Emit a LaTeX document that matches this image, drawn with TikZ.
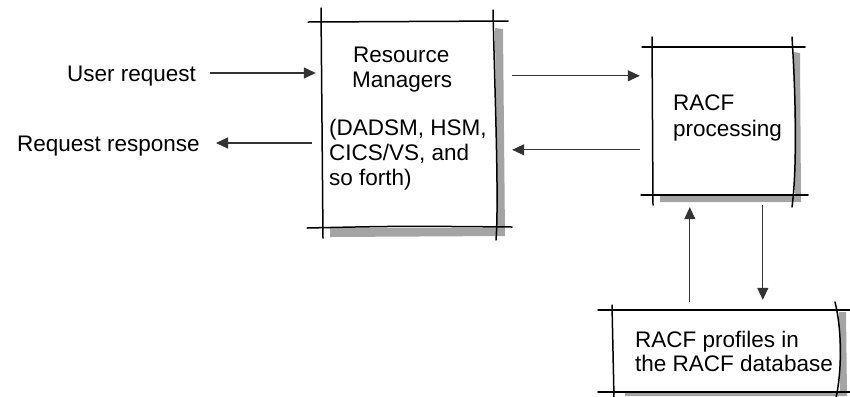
\documentclass[tikz,border=0pt]{standalone}
\usepackage{fontspec}
\setmainfont{Liberation Sans}
\usetikzlibrary{arrows.meta,calc}
\definecolor{shadowgray}{HTML}{A4A4A4}
\definecolor{linegray}{HTML}{333333}
\begin{document}
\begin{tikzpicture}[x=1bp,y=-1bp,
  txt/.style={inner sep=0pt,anchor=base west,font=\fontsize{22.5bp}{25bp}\selectfont},
  boxarea/.style={rectangle,inner sep=0pt,draw=none},
  sketch/.style={line width=1.5bp,black,line cap=round},
  shade/.style={fill=shadowgray,draw=none},
  arr/.style={line width=1.1bp,draw=linegray,-{Triangle[length=12bp,width=11bp]}}]
\useasboundingbox (0,0) rectangle (850,396);

% box areas
\node[boxarea,minimum width=173bp,minimum height=205bp] (box1) at (408.5,124.5) {};
\node[boxarea,minimum width=141bp,minimum height=148bp] (box2) at (722.5,121) {};
\node[boxarea,minimum width=224bp,minimum height=82bp] (box3) at (725,351) {};

% shadows
\fill[shade] (495,28) -- (503,29) -- (505,236) -- (330,237) -- (330,228) -- (497,228) -- cycle;
\fill[shade] (794,52) -- (800,53) -- (801,202) -- (660,202) -- (660,196) -- (795,196) -- cycle;
\fill[shade] (839,312) -- (846,312) -- (847,396) -- (625,396) -- (625,393) -- (840,393) -- cycle;

% box 1 sketch lines
\draw[sketch] (321,8) -- (323,238);
\draw[sketch] (308,22) -- (508,21);
\draw[sketch] (307,228) .. controls (400,226) .. (512,227);
\draw[sketch] (493,10) .. controls (495,100) and (499,200) .. (496,240);

% box 2 sketch lines
\draw[sketch] (652,37) -- (653,205);
\draw[sketch] (642,47) -- (805,47);
\draw[sketch] (641,195) -- (808,195);
\draw[sketch] (792,37) .. controls (796,100) and (797,170) .. (792,207);

% box 3 sketch lines
\draw[sketch] (612,305) -- (614,398);
\draw[sketch] (598,310) -- (852,310);
\draw[sketch] (598,392) -- (852,392);
\draw[sketch] (835,302) .. controls (842,330) and (842,370) .. (836,398);

% texts
\node[txt] (ureq) at (67,81) {User request};
\node[txt,anchor=base east] (resp) at (200,151) {Request response};
\node[txt] (rm1) at (353,62) {Resource};
\node[txt] (rm2) at (352,87) {Managers};
\node[txt] (rm3) at (329,135) {(DADSM, HSM,};
\node[txt] (rm4) at (329,160) {CICS/VS, and};
\node[txt] (rm5) at (329,185) {so forth)};
\node[txt] (rp1) at (673,110) {RACF};
\node[txt] (rp2) at (673,136) {processing};
\node[txt] (db1) at (635,347) {RACF profiles in};
\node[txt] (db2) at (635,371) {the RACF database};

% connectors
\draw[arr] ($(ureq.base east)+(14,-8)$) -- ($(ureq.base east -| box1.west)+(-6,-8)$);
\draw[arr] ($(resp.base east -| box1.west)+(-10,-8)$) -- ($(resp.base east)+(16,-8)$);
\draw[arr] ($(box1.north east)+(17,54)$) -- ($(box2.west |- box1.north east)+(-12,54)$);
\draw[arr] ($(box2.west |- box1.north east)+(-12,128)$) -- ($(box1.north east)+(17,128)$);
\draw[arr] ($(box3.north west)+(77,-8)$) -- ($(box3.north west |- box2.south)+(77,12)$);
\draw[arr] ($(box3.north west |- box2.south)+(150,10)$) -- ($(box3.north west)+(150,-10)$);
\end{tikzpicture}
\end{document}
